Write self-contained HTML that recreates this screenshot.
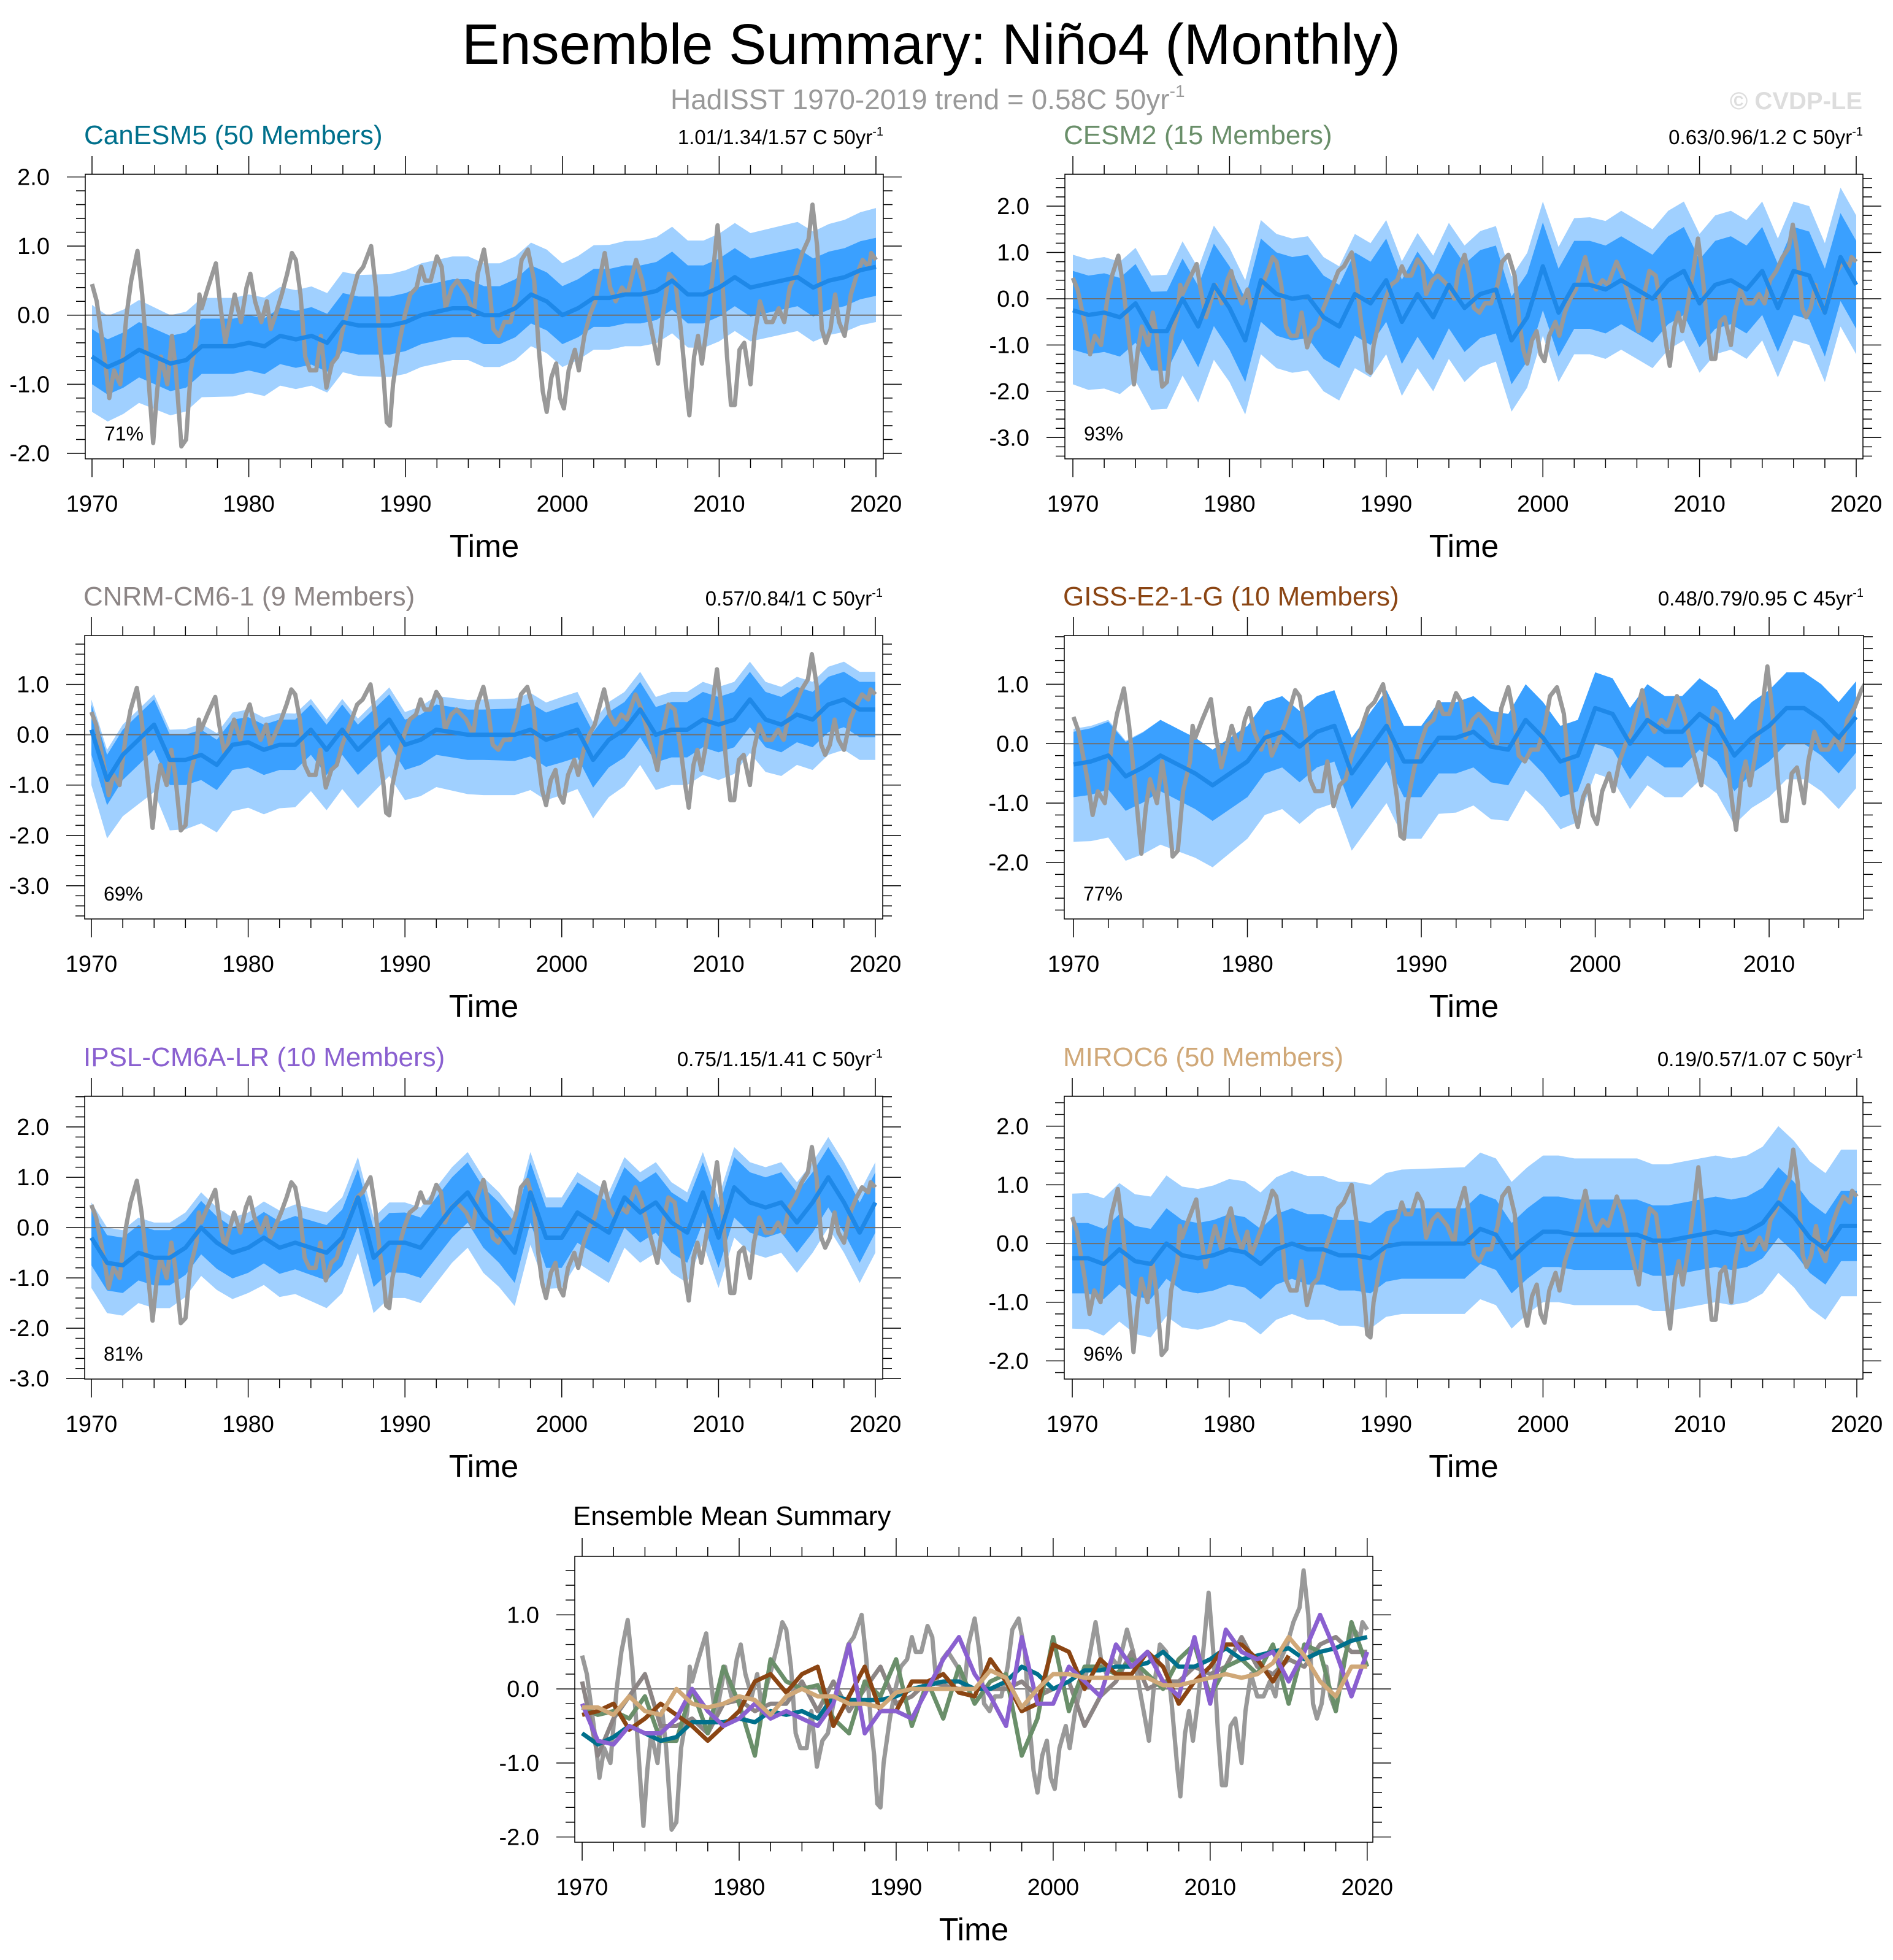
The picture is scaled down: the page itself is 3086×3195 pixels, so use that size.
<!DOCTYPE html>
<html><head><meta charset="utf-8"><title>Ensemble Summary Niño4</title>
<style>
html,body{margin:0;padding:0;background:#fff;}
svg{display:block;font-family:"Liberation Sans",Arial,sans-serif;}
</style></head>
<body>
<svg id="chart" width="3086" height="3195" viewBox="0 0 3086 3195" xmlns="http://www.w3.org/2000/svg">
<rect width="3086" height="3195" fill="#fff"/>
<text x="1518" y="104" font-size="93" text-anchor="middle" textLength="1530" lengthAdjust="spacingAndGlyphs">Ensemble Summary: Niño4 (Monthly)</text>
<text x="1093" y="178" font-size="46" fill="#999">HadISST 1970-2019 trend = 0.58C 50yr<tspan font-size="28" dy="-20">-1</tspan></text>
<text x="3036" y="178" font-size="40" font-weight="bold" fill="#dddddd" text-anchor="end">© CVDP-LE</text>
<text x="934" y="2486" font-size="44">Ensemble Mean Summary</text>
<g id="plots"></g>
</svg>
<script>
// ---------- DATA ----------
const xTickYears = [1970,1980,1990,2000,2010,2020];
const xTickLabels = ['1970','1980','1990','2000','2010','2020'];
// HadISST observed Niño4 (year, value)
const obsT = [1970.0,1970.3,1970.8,1971.1,1971.4,1971.8,1972.2,1972.5,1972.9,1973.2,1973.5,1973.9,1974.15,1974.4,1974.8,1975.1,1975.35,1975.7,1976.0,1976.3,1976.7,1976.85,1977.0,1977.4,1977.9,1978.15,1978.5,1979.1,1979.5,1979.85,1980.1,1980.4,1980.8,1981.15,1981.4,1981.7,1982.1,1982.45,1982.75,1983.0,1983.3,1983.6,1983.9,1984.3,1984.6,1984.95,1985.3,1985.65,1986.0,1986.6,1986.95,1987.3,1987.8,1988.1,1988.4,1988.6,1988.8,1989.0,1989.2,1989.6,1989.95,1990.3,1990.7,1991.0,1991.25,1991.6,1992.0,1992.3,1992.55,1992.95,1993.3,1993.9,1994.35,1994.6,1995.0,1995.3,1995.6,1995.95,1996.3,1996.7,1997.1,1997.4,1997.8,1998.2,1998.5,1998.75,1999.0,1999.3,1999.6,1999.85,2000.1,2000.4,2000.8,2001.05,2001.4,2001.75,2002.1,2002.7,2003.05,2003.4,2003.8,2004.15,2004.7,2005.1,2005.5,2005.85,2006.1,2006.4,2006.8,2007.2,2007.55,2007.9,2008.1,2008.4,2008.65,2008.9,2009.2,2009.6,2009.9,2010.2,2010.5,2010.75,2011.0,2011.3,2011.6,2012.0,2012.25,2012.6,2013.0,2013.4,2013.8,2014.15,2014.5,2014.9,2015.3,2015.7,2015.95,2016.25,2016.55,2016.8,2017.1,2017.4,2017.65,2018.0,2018.4,2018.8,2019.15,2019.55,2019.7,2020.0];
const obsV = [0.45,0.2,-0.6,-1.2,-0.8,-1.0,0.0,0.5,0.93,0.3,-0.6,-1.85,-1.1,-0.6,-1.0,-0.3,-0.8,-1.9,-1.8,-0.8,-0.3,0.3,0.1,0.4,0.75,0.2,-0.4,0.3,-0.1,0.4,0.6,0.2,-0.1,0.2,-0.2,0.0,0.3,0.6,0.9,0.8,0.3,-0.6,-0.8,-0.8,-0.3,-1.05,-0.7,-0.6,-0.2,0.3,0.6,0.7,1.0,0.4,-0.5,-0.9,-1.55,-1.6,-1.0,-0.4,0.0,0.3,0.4,0.7,0.5,0.5,0.85,0.7,0.1,0.4,0.5,0.3,0.0,0.6,0.95,0.5,-0.2,-0.3,-0.1,-0.1,0.3,0.8,0.95,0.5,-0.5,-1.1,-1.4,-0.9,-0.7,-1.2,-1.35,-0.8,-0.5,-0.8,-0.3,0.0,0.2,0.9,0.4,0.2,0.4,0.3,0.8,0.5,0.0,-0.4,-0.7,0.0,0.6,0.5,-0.2,-1.05,-1.45,-0.6,-0.3,-0.7,-0.2,0.6,1.3,0.5,-0.6,-1.3,-1.3,-0.5,-0.4,-1.0,-0.3,0.2,-0.1,-0.1,0.1,-0.1,0.4,0.6,0.9,1.1,1.6,1.0,-0.2,-0.4,-0.2,0.3,-0.1,-0.3,0.3,0.6,0.8,0.7,0.9,0.8];
// ensemble means, yearly from 1970
const canMean = [-0.6,-0.75,-0.65,-0.5,-0.6,-0.7,-0.65,-0.45,-0.45,-0.45,-0.4,-0.45,-0.3,-0.35,-0.3,-0.4,-0.1,-0.15,-0.15,-0.15,-0.1,0.0,0.05,0.1,0.1,0.0,0.0,0.1,0.3,0.2,0.0,0.1,0.25,0.25,0.3,0.3,0.35,0.5,0.3,0.3,0.4,0.55,0.4,0.45,0.5,0.55,0.4,0.5,0.55,0.65,0.7];
const cesmMean = [-0.25,-0.35,-0.3,-0.4,-0.1,-0.7,-0.7,0.0,-0.6,0.3,-0.2,-0.9,0.4,0.1,0.0,0.05,-0.4,-0.6,0.1,-0.1,0.4,-0.5,0.1,-0.4,0.3,-0.2,0.1,0.2,-0.9,-0.4,0.7,-0.3,0.3,0.3,0.2,0.4,0.2,0.0,0.4,0.6,-0.1,0.3,0.4,0.2,0.6,-0.2,0.6,0.5,-0.3,0.9,0.3];
const cnrmMean = [0.1,-0.9,-0.4,-0.1,0.2,-0.5,-0.5,-0.4,-0.6,-0.2,-0.15,-0.3,-0.2,-0.2,0.1,-0.3,0.1,-0.3,0.0,0.3,-0.2,-0.1,0.1,0.05,0.0,0.0,0.0,0.0,0.1,-0.1,0.0,0.1,-0.5,-0.1,0.1,0.5,0.0,0.1,0.1,0.3,0.2,0.3,0.7,0.3,0.2,0.4,0.3,0.6,0.7,0.5,0.5];
const gissMean = [-0.35,-0.3,-0.2,-0.55,-0.4,-0.2,-0.35,-0.5,-0.7,-0.5,-0.3,0.1,0.2,-0.05,0.2,0.3,-0.5,-0.1,0.3,-0.3,-0.3,0.1,0.1,0.2,-0.05,-0.1,0.4,0.1,-0.3,-0.2,0.6,0.5,0.0,0.4,0.2,0.2,0.5,0.3,-0.2,0.1,0.3,0.6,0.6,0.4,0.1,0.45];
const ipslMean = [-0.2,-0.7,-0.75,-0.5,-0.6,-0.6,-0.4,0.0,-0.3,-0.5,-0.4,-0.2,-0.4,-0.3,-0.4,-0.5,-0.2,0.6,-0.6,-0.3,-0.3,-0.4,0.0,0.4,0.7,0.2,-0.1,-0.5,0.7,-0.2,-0.2,0.3,0.1,-0.1,0.6,0.3,0.5,0.1,-0.1,0.7,-0.2,0.8,0.5,0.4,0.5,0.1,0.5,1.0,0.5,-0.1,0.5];
const mirocMean = [-0.25,-0.25,-0.35,-0.1,-0.3,-0.35,0.0,-0.2,-0.25,-0.2,-0.1,-0.15,-0.35,-0.1,0.0,-0.1,-0.1,-0.2,-0.2,-0.25,-0.05,0.0,0.0,0.0,0.0,0.0,0.25,0.15,-0.25,0.0,0.2,0.2,0.15,0.15,0.15,0.15,0.15,0.05,0.05,0.1,0.15,0.2,0.15,0.2,0.35,0.7,0.45,0.1,-0.1,0.3,0.3];
// band half-widths every 5 years from 1970 (inner = dark, outer up/down = light)
const canInner = [0.4,0.4,0.4,0.42,0.42,0.42,0.42,0.42,0.42,0.42,0.42];
const canOutUp = [0.75,0.7,0.7,0.72,0.75,0.75,0.75,0.78,0.78,0.8,0.85];
const canOutDn = [0.8,0.75,0.72,0.72,0.75,0.75,0.75,0.75,0.78,0.78,0.8];
const cesmInner = [0.85,0.85,0.9,0.9,0.9,0.95,0.95,0.95,0.95,0.95,0.95];
const cesmOutUp = [1.2,1.2,1.3,1.3,1.3,1.35,1.4,1.5,1.5,1.5,1.5];
const cesmOutDn = [1.6,1.7,1.6,1.6,1.6,1.6,1.5,1.5,1.5,1.5,1.5];
const cnrmInner = [0.5,0.5,0.5,0.5,0.5,0.5,0.55,0.55,0.55,0.55,0.55];
const cnrmOutUp = [0.6,0.6,0.65,0.6,0.65,0.7,0.75,0.75,0.75,0.75,0.75];
const cnrmOutDn = [1.1,1.4,1.3,1.2,1.1,1.2,1.2,1.1,1.1,1.0,1.0];
const gissInner = [0.55,0.6,0.6,0.6,0.6,0.6,0.6,0.6,0.6,0.6];
const gissOutUp = [0.6,0.6,0.6,0.6,0.6,0.6,0.6,0.6,0.6,0.6];
const gissOutDn = [1.3,1.5,1.3,1.3,1.3,1.2,1.1,1.1,1.2,1.2];
const ipslInner = [0.55,0.55,0.5,0.55,0.6,0.6,0.6,0.6,0.6,0.6,0.6];
const ipslOutUp = [0.7,0.7,0.7,0.8,0.8,0.8,0.8,0.8,0.8,0.8,0.8];
const ipslOutDn = [1.0,1.0,0.9,1.1,1.1,1.1,1.0,1.0,1.0,1.0,1.0];
const mirocInner = [0.6,0.6,0.6,0.6,0.6,0.6,0.6,0.6,0.6,0.6,0.6];
const mirocOutUp = [1.1,1.15,1.2,1.25,1.25,1.3,1.3,1.3,1.3,1.3,1.3];
const mirocOutDn = [1.2,1.25,1.2,1.2,1.2,1.2,1.2,1.2,1.2,1.2,1.2];
const pctLabels = ['71%','93%','69%','77%','81%','96%'];
const trendLabels = ['1.01/1.34/1.57 C 50yr','0.63/0.96/1.2 C 50yr','0.57/0.84/1 C 50yr','0.48/0.79/0.95 C 45yr','0.75/1.15/1.41 C 50yr','0.19/0.57/1.07 C 50yr'];

// ---------- LAYOUT ----------
const NS='http://www.w3.org/2000/svg';
const root=document.getElementById('plots');
function mk(tag,attrs,parent){const e=document.createElementNS(NS,tag);for(const k in attrs)e.setAttribute(k,attrs[k]);(parent||root).appendChild(e);return e;}

const panels=[
 {key:'canesm5',name:'CanESM5 (50 Members)',color:'#00708c',box:[139,284,1440,748],yr:[1969.57,2020.47],yv:[2.04,-2.08],yt:[-2,-1,0,1,2],mean:canMean,inn:canInner,up:canOutUp,dn:canOutDn,pct:0,xmaxTick:2020},
 {key:'cesm2',name:'CESM2 (15 Members)',color:'#6a8f6a',box:[1736,284,3037,748],yr:[1969.49,2020.43],yv:[2.69,-3.46],yt:[-3,-2,-1,0,1,2],mean:cesmMean,inn:cesmInner,up:cesmOutUp,dn:cesmOutDn,pct:1,xmaxTick:2020},
 {key:'cnrm',name:'CNRM-CM6-1 (9 Members)',color:'#8c8585',box:[138,1036,1439,1498],yr:[1969.57,2020.47],yv:[1.97,-3.66],yt:[-3,-2,-1,0,1],mean:cnrmMean,inn:cnrmInner,up:cnrmOutUp,dn:cnrmOutDn,pct:2,xmaxTick:2020},
 {key:'giss',name:'GISS-E2-1-G (10 Members)',color:'#8b4513',box:[1735,1036,3038,1498],yr:[1969.47,2015.43],yv:[1.82,-2.95],yt:[-2,-1,0,1],mean:gissMean,inn:gissInner,up:gissOutUp,dn:gissOutDn,pct:3,xmaxTick:2014},
 {key:'ipsl',name:'IPSL-CM6A-LR (10 Members)',color:'#8a60d0',box:[138,1787,1439,2248],yr:[1969.57,2020.47],yv:[2.61,-3.01],yt:[-3,-2,-1,0,1,2],mean:ipslMean,inn:ipslInner,up:ipslOutUp,dn:ipslOutDn,pct:4,xmaxTick:2020},
 {key:'miroc6',name:'MIROC6 (50 Members)',color:'#d0a878',box:[1735,1787,3037,2248],yr:[1969.49,2020.39],yv:[2.51,-2.31],yt:[-2,-1,0,1,2],mean:mirocMean,inn:mirocInner,up:mirocOutUp,dn:mirocOutDn,pct:5,xmaxTick:2020}
];
const summary={key:'summary',box:[937,2537,2238,3003],yr:[1969.53,2020.36],yv:[1.79,-2.07],yt:[-2,-1,0,1],xmaxTick:2020};

function scales(p){
 const [l,t,r,b]=p.box;
 const sx=y=>l+(y-p.yr[0])/(p.yr[1]-p.yr[0])*(r-l);
 const sy=v=>t+(p.yv[0]-v)/(p.yv[0]-p.yv[1])*(b-t);
 return {sx,sy};
}
function wAt(arr,i){const f=i/5,k=Math.floor(f);if(k>=arr.length-1)return arr[arr.length-1];const a=f-k;return arr[k]*(1-a)+arr[k+1]*a;}

function axes(p,g,id){
 const [l,t,r,b]=p.box;const {sx,sy}=scales(p);
 const ax=mk('g',{},g);
 
 
 for(let y=1970;y<=p.xmaxTick;y+=2){
  const X=sx(y);const major=(y%10===0);const L=major?30:15;
  mk('line',{x1:X,y1:t,x2:X,y2:t-L,stroke:'#000','stroke-width':1.5},ax);
  mk('line',{x1:X,y1:b,x2:X,y2:b+L,stroke:'#000','stroke-width':1.5},ax);
 }
 xTickYears.forEach((y,i)=>{
  if(y>p.yr[1])return;
  const tx=mk('text',{x:sx(y),y:b+86,'font-size':38,'text-anchor':'middle'},ax);
  
  
  tx.textContent=xTickLabels[i];
 });
 const lo=Math.ceil(p.yv[1]*5-1e-6),hi=Math.floor(p.yv[0]*5+1e-6);
 for(let k=lo;k<=hi;k++){
  const v=k/5,Y=sy(v),major=(k%5===0),L=major?30:15;
  mk('line',{x1:l,y1:Y,x2:l-L,y2:Y,stroke:'#000','stroke-width':1.5},ax);
  mk('line',{x1:r,y1:Y,x2:r+L,y2:Y,stroke:'#000','stroke-width':1.5},ax);
 }
 p.yt.forEach(v=>{
  const tx=mk('text',{x:l-58,y:sy(v)+13,'font-size':38,'text-anchor':'end'},ax);
  
  
  tx.textContent=v.toFixed(1);
 });
 const tl=mk('text',{x:(l+r)/2,y:b+160,'font-size':52,'text-anchor':'middle'},ax);
 
 
 tl.textContent='Time';
}

function clip(p,id){
 const [l,t,r,b]=p.box;
 const c=mk('clipPath',{id:'clip-'+id});
 mk('rect',{x:l,y:t,width:r-l,height:b-t},c);
 return 'url(#clip-'+id+')';
}
function obsPath(sx,sy){return obsT.map((y,i)=>(i?'L':'M')+sx(y).toFixed(1)+','+sy(obsV[i]).toFixed(1)).join('');}
function linePath(arr,sx,sy){return arr.map((v,i)=>(i?'L':'M')+sx(1970+i).toFixed(1)+','+sy(v).toFixed(1)).join('');}

panels.forEach(p=>{
 const g=mk('g',{});
 
 
 const [l,t,r,b]=p.box;const {sx,sy}=scales(p);
 const cp=clip(p,p.key);
 const dg=mk('g',{'clip-path':cp},g);
 let up=[],dn=[];
 p.mean.forEach((m,i)=>{up.push(sx(1970+i)+','+sy(m+wAt(p.up,i)));dn.push(sx(1970+i)+','+sy(m-wAt(p.dn,i)));});
 const ob=mk('polygon',{points:up.concat(dn.reverse()).join(' '),fill:'#a0d0ff'},dg);
 
 
 up=[];dn=[];
 p.mean.forEach((m,i)=>{up.push(sx(1970+i)+','+sy(m+wAt(p.inn,i)));dn.push(sx(1970+i)+','+sy(m-wAt(p.inn,i)));});
 const ib=mk('polygon',{points:up.concat(dn.reverse()).join(' '),fill:'#3aa0ff'},dg);
 
 
 const z=mk('line',{x1:l,x2:r,y1:sy(0),y2:sy(0),stroke:'#707070','stroke-width':2},dg);
 
 
 const ol=mk('path',{d:obsPath(sx,sy),fill:'none',stroke:'#999','stroke-width':7,'stroke-linejoin':'round'},dg);
 
 
 const ml=mk('path',{d:linePath(p.mean,sx,sy),fill:'none',stroke:'#1e88e8','stroke-width':7,'stroke-linejoin':'round'},dg);
 
 
 const fr=mk('rect',{x:l,y:t,width:r-l,height:b-t,fill:'none',stroke:'#000','stroke-width':1.5},g);
 
 
 axes(p,g,p.key);
 const ti=mk('text',{x:l-2,y:t-49,'font-size':44,fill:p.color},g);
 
 
 ti.textContent=p.name;
 const tr=mk('text',{x:r,y:t-49,'font-size':33,'text-anchor':'end'},g);
 
 
 tr.appendChild(document.createTextNode(trendLabels[p.pct]));
 const sup=mk('tspan',{'font-size':20,dy:-14},tr);
 sup.textContent='-1';
 const pc=mk('text',{x:l+31,y:b-30,'font-size':32},g);
 
 
 pc.textContent=pctLabels[p.pct];
});

(function(){
 const p=summary;const g=mk('g',{});
 
 
 const [l,t,r,b]=p.box;const {sx,sy}=scales(p);
 const dg=mk('g',{'clip-path':clip(p,'summary')},g);
 const z=mk('line',{x1:l,x2:r,y1:sy(0),y2:sy(0),stroke:'#707070','stroke-width':2},dg);
 
 
 const ol=mk('path',{d:obsPath(sx,sy),fill:'none',stroke:'#999','stroke-width':7,'stroke-linejoin':'round'},dg);
 
 
 ['cnrm','cesm2','canesm5','giss','ipsl','miroc6'].forEach(k=>{
  const pp=panels.find(q=>q.key===k);
  const ml=mk('path',{d:linePath(pp.mean,sx,sy),fill:'none',stroke:pp.color,'stroke-width':7,'stroke-linejoin':'round'},dg);
  
  
 });
 const fr=mk('rect',{x:l,y:t,width:r-l,height:b-t,fill:'none',stroke:'#000','stroke-width':1.5},g);
 
 
 axes(p,g,'summary');
})();
</script>
</body></html>
